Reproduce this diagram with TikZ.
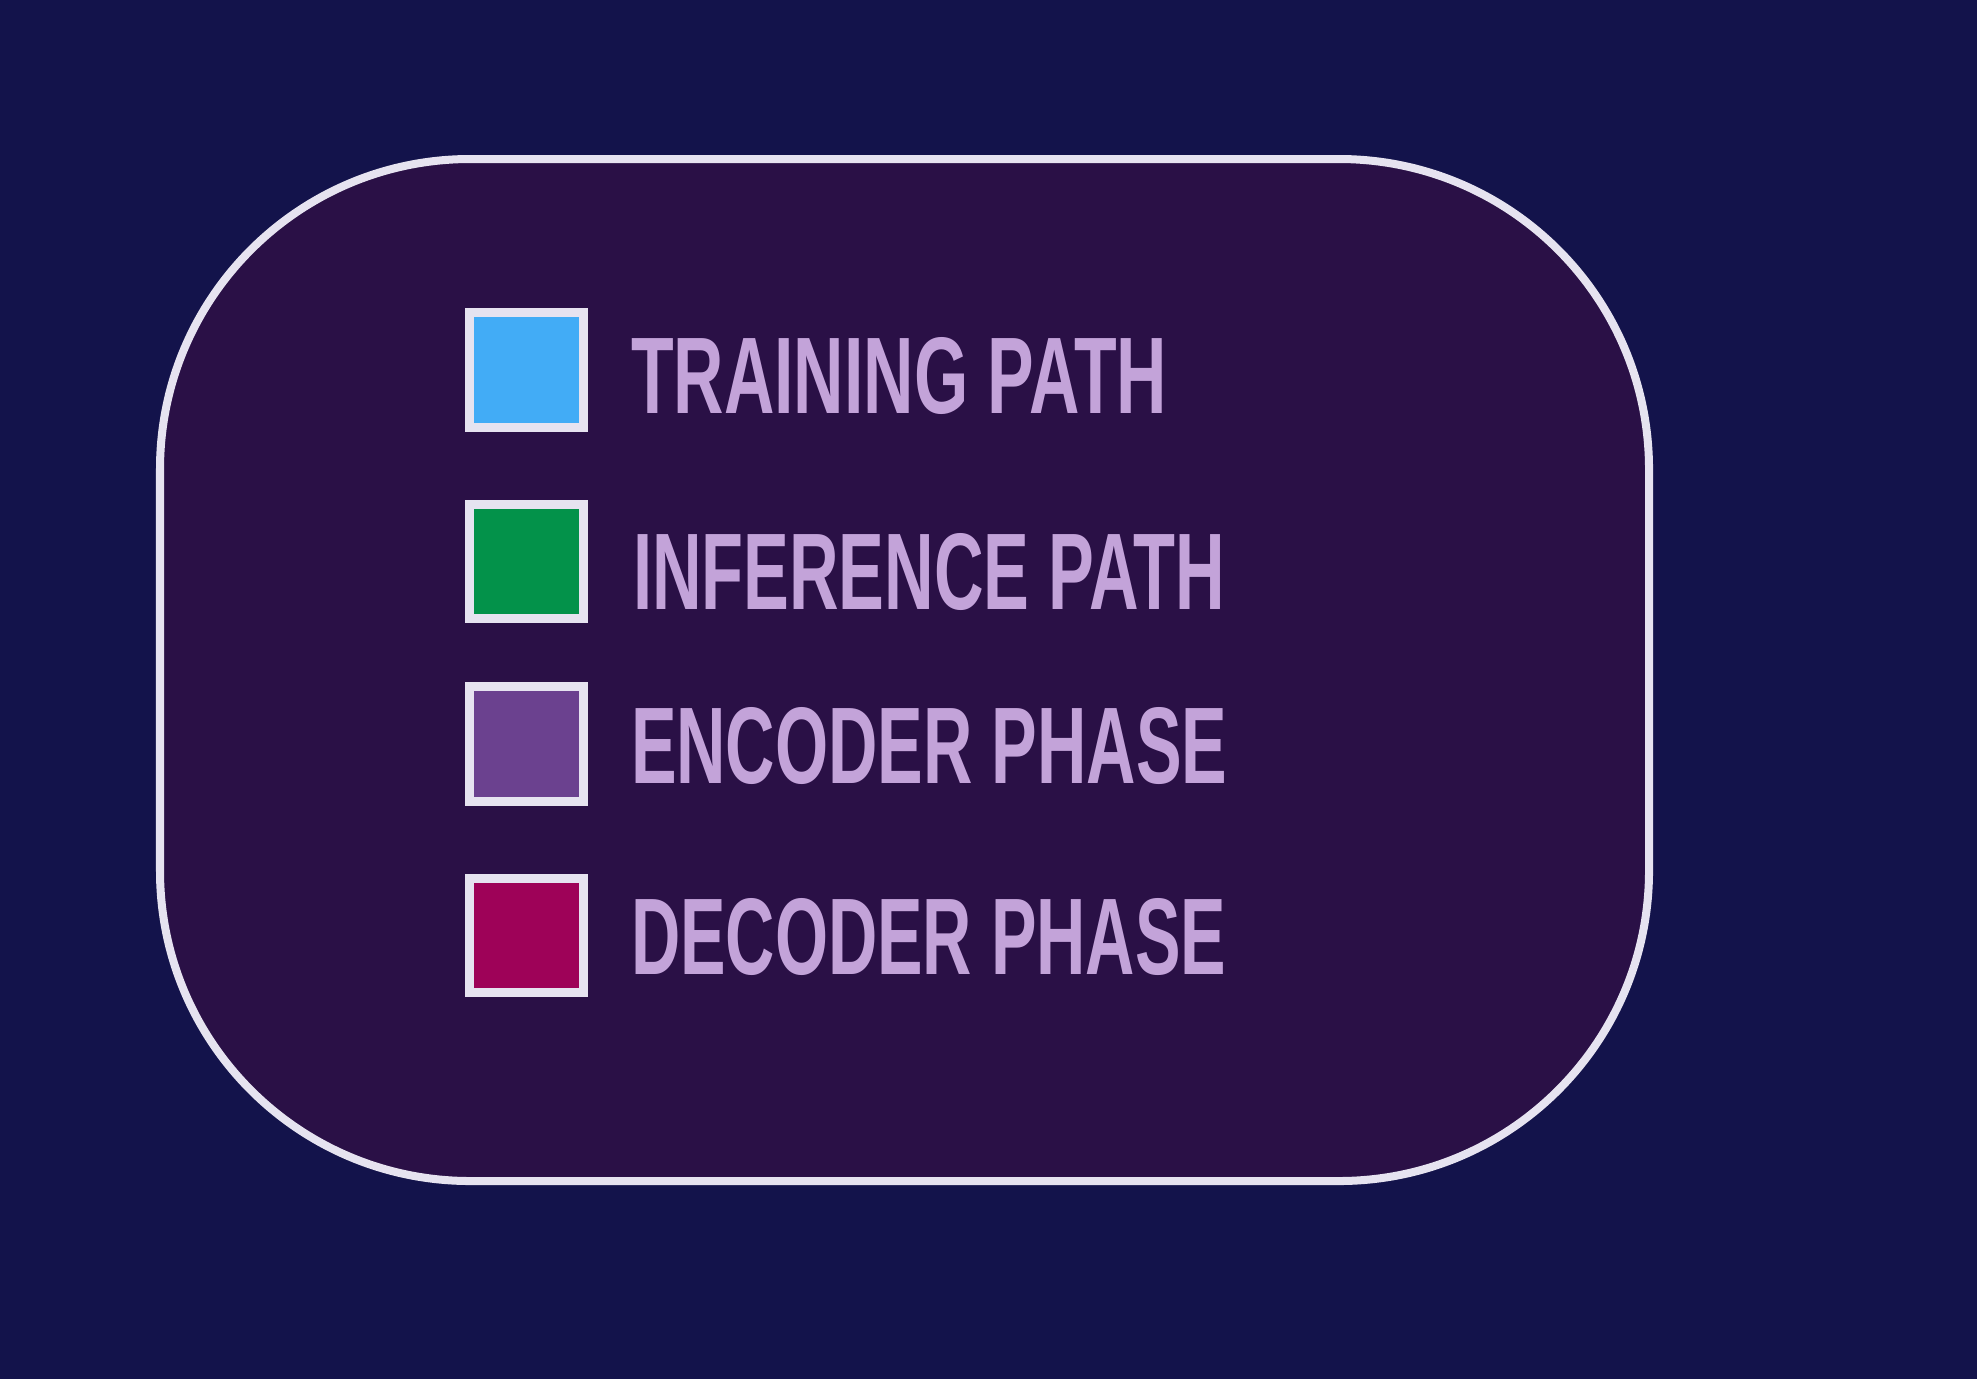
\documentclass[tikz,border=0pt]{standalone}
\usepackage{fontspec}
\usepackage{graphicx}
\newfontfamily\legendfont{Liberation Sans}
\definecolor{pagebg}{HTML}{13134B}
\definecolor{panelbg}{HTML}{2A1046}
\definecolor{frame}{HTML}{E6E3F0}
\definecolor{labeltext}{HTML}{C3A3D9}
\definecolor{trainblue}{HTML}{42ACF6}
\definecolor{infergreen}{HTML}{03924A}
\definecolor{encpurple}{HTML}{6B418F}
\definecolor{decmagenta}{HTML}{9E0258}
\tikzset{
  swatch/.style={draw=frame, line width=2.56pt, minimum width=1.14cm,
    minimum height=1.14cm, inner sep=0pt, outer sep=0pt},
  legendlabel/.style={anchor=base west, inner sep=0pt, outer sep=0pt,
    text=labeltext, font=\legendfont\bfseries},
}
% fit a label into a given width and cap height
\newcommand{\legendtext}[2]{\resizebox{#1}{0.76cm}{#2}}
\begin{document}
\begin{tikzpicture}[x=0.01cm, y=-0.01cm]
  \useasboundingbox (0,0) rectangle (1977,1378);
  % page background, bled past the page edges
  \fill[pagebg] (-20,-20) rectangle (1997,1398);
  % legend panel
  \draw[frame, fill=panelbg, line width=2.28pt, rounded corners=3.1cm]
    (160,159) rectangle (1649,1181);
  % colour swatches
  \node[swatch, fill=trainblue]  (sTrain) at (526.5,370) {};
  \node[swatch, fill=infergreen] (sInfer) at (526.5,561.5) {};
  \node[swatch, fill=encpurple]  (sEnc)   at (526.5,744) {};
  \node[swatch, fill=decmagenta] (sDec)   at (526.5,935.5) {};
  % labels
  \node[legendlabel] (lTrain) at (631,413) {\legendtext{5.36cm}{TRAINING PATH}};
  \node[legendlabel] (lInfer) at (633,609) {\legendtext{5.92cm}{INFERENCE PATH}};
  \node[legendlabel] (lEnc)   at (631,783) {\legendtext{5.96cm}{ENCODER PHASE}};
  \node[legendlabel] (lDec)   at (631,974) {\legendtext{5.95cm}{DECODER PHASE}};
\end{tikzpicture}
\end{document}
